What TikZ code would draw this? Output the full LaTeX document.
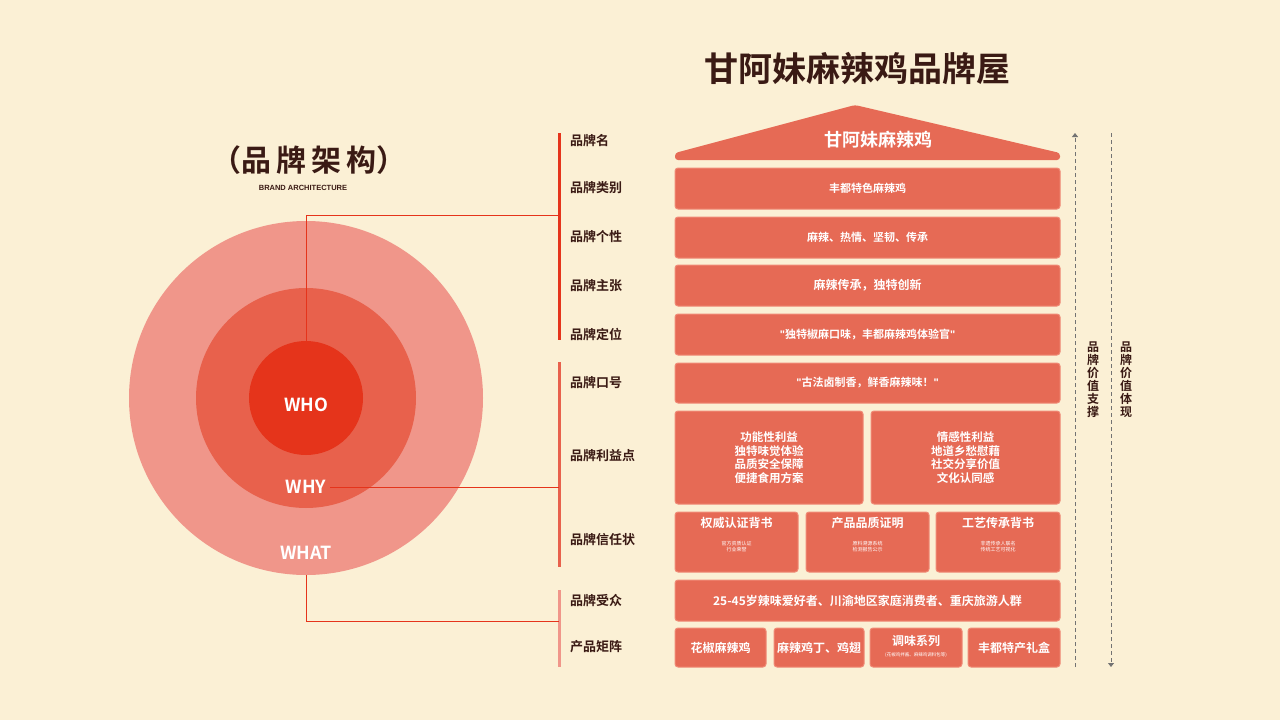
\documentclass[tikz,border=0pt]{standalone}
\usepackage{fontspec}
\setmainfont{Noto Sans CJK SC}[BoldFont={* Bold}]
\newfontfamily\latfont{Liberation Sans}
\usetikzlibrary{arrows.meta}
\definecolor{bg}{HTML}{FBF0D5}
\definecolor{boxc}{HTML}{E66A55}
\definecolor{boxe}{HTML}{F08A76}
\definecolor{dk}{HTML}{3A1A14}
\definecolor{r1}{HTML}{E5341B}
\definecolor{r2}{HTML}{E8614C}
\definecolor{r3}{HTML}{F0968A}
\newcommand\qq{{\latfont"}}
\tikzset{
 bx/.style={fill=boxc,draw=boxe,line width=1pt,rounded corners=3pt},
 lab/.style={anchor=west,text=dk,font=\bfseries\fontsize{13}{15}\selectfont,inner sep=0},
 wt/.style={text=white,font=\bfseries\fontsize{12}{14}\selectfont,align=center,inner sep=0},
 ws/.style={text=white,font=\fontsize{5}{6}\selectfont,align=center,inner sep=0},
 cl/.style={line width=1pt,draw=r1},
}
\begin{document}
\begin{tikzpicture}[x=1pt,y=-1pt]
\fill[bg] (0,0) rectangle (1280,720);
\useasboundingbox (0,0) rectangle (1280,720);
% title
\node[text=dk,font=\bfseries\fontsize{34}{38}\selectfont] (title) at (857,68) {甘阿妹麻辣鸡品牌屋};
\node[text=dk,font=\bfseries\fontsize{30}{34}\selectfont] (arch) at (309,160) {（品\hspace{5pt}牌\hspace{5pt}架\hspace{5pt}构）};
\node[text=dk,font=\latfont\bfseries\fontsize{7.5}{8}\selectfont] (archen) at (303,188) {BRAND ARCHITECTURE};
% circles
\fill[r3] (306,398) circle (177);
\fill[r2] (306,398) circle (110);
\fill[r1] (306,398) circle (57);
\node[text=white,font=\bfseries\fontsize{18}{20}\selectfont] (who) at (306,405) {WHO};
\node[text=white,font=\bfseries\fontsize{18}{20}\selectfont] (why) at (306,487) {WHY};
\node[text=white,font=\bfseries\fontsize{18}{20}\selectfont] (what) at (306,553) {WHAT};
% brackets
\draw[line width=3pt,r1] (559,133) coordinate (b1t) -- (559,340) coordinate (b1b);
\draw[line width=3pt,r2] (559,362) coordinate (b2t) -- (559,567) coordinate (b2b);
\draw[line width=3pt,r3] (559,590) coordinate (b3t) -- (559,667) coordinate (b3b);
\coordinate (c1) at (559,215);
\coordinate (c2) at (559,487);
\coordinate (c3) at (559,621);
\draw[cl] (306,345) -- (306,215) -- (c1);
\draw[cl] (why.east) -- (c2);
\draw[cl] (306,575) -- (306,621) -- (c3);
% labels
\foreach \t/\y [count=\i] in {品牌名/141,品牌类别/188,品牌个性/237,品牌主张/286,品牌定位/334,品牌口号/383,品牌利益点/456,品牌信任状/540,品牌受众/601,产品矩阵/647}
  \node[lab] (l\i) at (570,\y) {\t};
% roof
\fill[boxc,rounded corners=3pt] (675,160) -- (675,153) -- (855,105) -- (1060,153) -- (1060,160) -- cycle;
\node[wt,font=\bfseries\fontsize{18}{20}\selectfont] (roof) at (878,140) {甘阿妹麻辣鸡};
% rows
\node[bx,minimum width=385,minimum height=41] (r1) at (867.5,188.5) {};
\node[wt,font=\bfseries\fontsize{11}{13}\selectfont] at (r1) {丰都特色麻辣鸡};
\node[bx,minimum width=385,minimum height=41] (r2) at (867.5,237.5) {};
\node[wt,font=\bfseries\fontsize{11}{13}\selectfont] at (r2) {麻辣、热情、坚韧、传承};
\node[bx,minimum width=385,minimum height=41] (r3) at (867.5,285.5) {};
\node[wt] at (r3) {麻辣传承，独特创新};
\node[bx,minimum width=385,minimum height=41] (r4) at (867.5,334.5) {};
\node[wt,font=\bfseries\fontsize{11}{13}\selectfont] at (r4) {\qq 独特椒麻口味，丰都麻辣鸡体验官\qq};
\node[bx,minimum width=385,minimum height=40] (r5) at (867.5,383) {};
\node[wt,font=\bfseries\fontsize{11}{13}\selectfont] at (r5) {\qq 古法卤制香，鲜香麻辣味！\qq};
\node[bx,minimum width=188,minimum height=93] (b1) at (769,457.5) {};
\node[wt,font=\bfseries\fontsize{11.5}{13.5}\selectfont] at (b1) {功能性利益\\独特味觉体验\\品质安全保障\\便捷食用方案};
\node[bx,minimum width=189,minimum height=93] (b2) at (965.5,457.5) {};
\node[wt,font=\bfseries\fontsize{11.5}{13.5}\selectfont] at (b2) {情感性利益\\地道乡愁慰藉\\社交分享价值\\文化认同感};
\foreach \n/\x/\w/\t/\s in {t1/736.5/123/权威认证背书/{官方资质认证\\行业荣誉},t2/867.5/123/产品品质证明/{原料溯源系统\\检测报告公示},t3/998/124/工艺传承背书/{非遗传承人联名\\传统工艺可视化}}{
  \node[bx,minimum width=\w,minimum height=60] (\n) at (\x,542) {};
  \node[wt] at (\x,523) {\t};
  \node[ws] at (\x,547) {\s};
}
\node[bx,minimum width=385,minimum height=41] (r6) at (867.5,600.5) {};
\node[wt] at (r6) {25-45岁辣味爱好者、川渝地区家庭消费者、重庆旅游人群};
\node[bx,minimum width=91,minimum height=39] (p1) at (720.5,647.5) {};
\node[wt] at (p1) {花椒麻辣鸡};
\node[bx,minimum width=90,minimum height=39] (p2) at (819,647.5) {};
\node[wt] at (p2) {麻辣鸡丁、鸡翅};
\node[bx,minimum width=92,minimum height=39] (p3) at (916,647.5) {};
\node[wt] at (916,641) {调味系列};
\node[ws,font=\fontsize{4.5}{5}\selectfont] at (916,655) {(花椒鸡拌酱、麻辣鸡调料包等)};
\node[bx,minimum width=92,minimum height=39] (p4) at (1014,647.5) {};
\node[wt] at (p4) {丰都特产礼盒};
% dashed arrows
\coordinate (a1b) at (1075,667); \coordinate (a1t) at (1075,133);
\coordinate (a2t) at (1111,133); \coordinate (a2b) at (1111,667);
\draw[gray!90!black,dash pattern=on 4pt off 3pt,line width=1pt,-{Triangle[width=6pt,length=4pt]}] (a1b) -- (a1t);
\draw[gray!90!black,dash pattern=on 4pt off 3pt,line width=1pt,-{Triangle[width=6pt,length=4pt]}] (a2t) -- (a2b);
\node[text=dk,font=\bfseries\fontsize{12}{13}\selectfont,align=center,inner sep=0] (v1) at (1093,380) {品\\牌\\价\\值\\支\\撑};
\node[text=dk,font=\bfseries\fontsize{12}{13}\selectfont,align=center,inner sep=0] (v2) at (1126,380) {品\\牌\\价\\值\\体\\现};
\end{tikzpicture}
\end{document}
